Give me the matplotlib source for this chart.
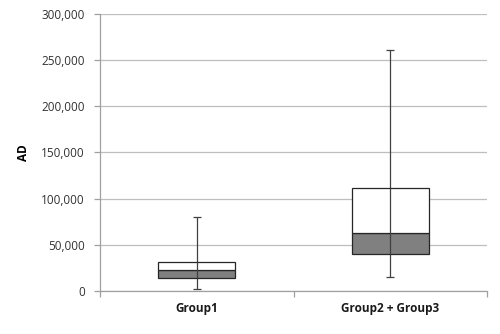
import numpy as np
import matplotlib.pyplot as plt
from matplotlib.ticker import FuncFormatter

plt.rcParams['font.family'] = ['Open Sans', 'DejaVu Sans']

groups = ["Group1", "Group2 + Group3"]
minimum = [2200, 15500]
q1 = [14000, 40500]
median = [23000, 63000]
q3 = [31500, 112000]
maximum = [80000, 261000]

fig = plt.figure(figsize=(5, 3.34), dpi=100)
ax = fig.add_axes([0.2, 0.129, 0.774, 0.829])

x = np.arange(len(groups))
q1 = np.array(q1)
median = np.array(median)
q3 = np.array(q3)

# whiskers first so boxes sit on top
lo = median - np.array(minimum)
hi = np.array(maximum) - median
ax.errorbar(x, median, yerr=[lo, hi], fmt='none', ecolor='#404040',
            elinewidth=0.9, capsize=3, capthick=0.9, zorder=2)

ax.bar(x, median - q1, bottom=q1, width=0.4, color='#808080',
       edgecolor='#262626', linewidth=0.9, zorder=3)
ax.bar(x, q3 - median, bottom=median, width=0.4, color='white',
       edgecolor='#262626', linewidth=0.9, zorder=3)
# redraw whisker line through the box
ax.vlines(x, q1, q3, color='#404040', linewidth=0.9, zorder=4)

ax.set_xlim(-0.5, 1.5)
ax.set_ylim(0, 300000)
ax.set_yticks(np.arange(0, 300001, 50000))
ax.yaxis.set_major_formatter(FuncFormatter(lambda v, p: f"{int(v):,}"))
ax.grid(axis='y', color='#BEBEBE', linewidth=0.9, zorder=0)
ax.set_axisbelow(True)

ax.set_xticks(x)
ax.set_xticklabels(groups, fontsize=8.5, fontweight='bold', color='#1a1a1a')
ax.tick_params(axis='x', length=0, pad=8)
ax.set_xticks([-0.5, 0.5, 1.5], minor=True)
ax.tick_params(axis='x', which='minor', length=4, color='#A0A0A0', width=0.9)
ax.tick_params(axis='y', length=4, color='#A0A0A0', width=0.9,
               labelsize=8.5, labelcolor='#333333', pad=7)

for s in ['top', 'right']:
    ax.spines[s].set_visible(False)
ax.spines['left'].set_color('#A0A0A0')
ax.spines['bottom'].set_color('#A0A0A0')
ax.spines['left'].set_linewidth(0.9)
ax.spines['bottom'].set_linewidth(0.9)

ax.set_ylabel("AD", fontsize=8.5, fontweight='bold', labelpad=8)

fig.savefig("out.png", dpi=100)
